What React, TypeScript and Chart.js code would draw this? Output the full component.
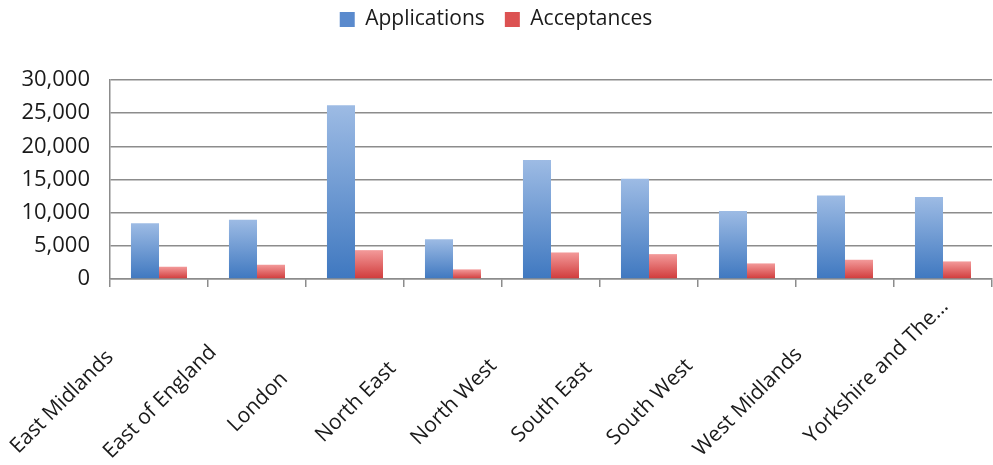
import React, { useEffect, useRef } from "react";
import { Chart, registerables } from "chart.js";

Chart.register(...registerables);

const categories = [
  "East Midlands",
  "East of England",
  "London",
  "North East",
  "North West",
  "South East",
  "South West",
  "West Midlands",
  "Yorkshire and The...",
];
const applications = [8400, 8950, 26200, 6000, 17950, 15100, 10250, 12600, 12350];
const acceptances = [1850, 2150, 4350, 1450, 4000, 3750, 2350, 2900, 2650];
const yTicks = [0, 5000, 10000, 15000, 20000, 25000, 30000];
const legendColors = ["#5a8acd", "#dc5252"];

const FONT = "Open Sans";

const gradientFill = (top: string, bottom: string, solid: string) => (c: any) => {
  const chart = c.chart;
  if (c.type !== "data" || !chart.chartArea || !c.parsed) return solid;
  const ys = chart.scales.y;
  const t = ys.getPixelForValue(c.parsed.y);
  const b = ys.getPixelForValue(0);
  if (!isFinite(t) || !isFinite(b) || t === b) return solid;
  const g = chart.ctx.createLinearGradient(0, t, 0, b);
  g.addColorStop(0, top);
  g.addColorStop(1, bottom);
  return g;
};

const legendSpacing = {
  id: "legendSpacing",
  beforeInit(chart: any) {
    const lg = chart.legend;
    if (!lg) return;
    const origFit = lg.fit;
    lg.fit = function () {
      origFit.call(this);
      this.height += 29;
    };
    const origDraw = lg.draw;
    lg.draw = function () {
      const ctx = this.ctx;
      ctx.save();
      ctx.translate(0, -11);
      origDraw.call(this);
      ctx.restore();
    };
  },
};

const rotatedLabels = {
  id: "rotatedLabels",
  afterDraw(chart: any) {
    const xs = chart.scales.x;
    const ctx = chart.ctx;
    const H = chart.height;
    ctx.save();
    ctx.font = `21px "${FONT}"`;
    ctx.fillStyle = "#1a1a1a";
    ctx.textAlign = "center";
    ctx.textBaseline = "middle";
    const ang = Math.PI / 4;
    categories.forEach((lab, i) => {
      const cx = xs.getPixelForTick(i);
      const w = ctx.measureText(lab).width;
      const half = (w * Math.cos(ang) + 22 * Math.sin(ang)) / 2;
      const baseY = 402;
      const overflow = Math.max(0, baseY + half - (H - 2));
      const cy = baseY - 2 * overflow;
      const px = cx - 97 + (baseY - cy);
      ctx.save();
      ctx.translate(px, cy);
      ctx.rotate(-ang);
      ctx.fillText(lab, 0, 0);
      ctx.restore();
    });
    ctx.restore();
  },
};

export default function App() {
  const ref = useRef<HTMLCanvasElement | null>(null);
  useEffect(() => {
    if (!ref.current) return;
    const chart = new Chart(ref.current, {
      type: "bar",
      data: {
        labels: categories,
        datasets: [
          {
            label: "Applications",
            data: applications,
            backgroundColor: gradientFill("#9dbbe4", "#3f78c0", "#4f82c8"),
            borderWidth: 0,
          },
          {
            label: "Acceptances",
            data: acceptances,
            backgroundColor: gradientFill("#f39a9a", "#d03a3a", "#d94a4a"),
            borderWidth: 0,
          },
        ],
      },
      options: {
        animation: false,
        responsive: true,
        maintainAspectRatio: false,
        layout: { padding: { left: 0, right: 1, top: 0, bottom: 178 } },
        datasets: { bar: { categoryPercentage: 0.572, barPercentage: 1 } },
        plugins: {
          legend: {
            position: "top",
            labels: {
              font: { family: FONT, size: 21 },
              color: "#1a1a1a",
              boxWidth: 15,
              boxHeight: 15,
              padding: 20,
              generateLabels: (ch: any) => {
                const items = Chart.defaults.plugins.legend.labels.generateLabels(ch);
                return items.map((it: any, i: number) => ({
                  ...it,
                  fillStyle: legendColors[i % legendColors.length],
                  strokeStyle: legendColors[i % legendColors.length],
                  lineWidth: 0,
                }));
              },
            },
          },
          tooltip: { enabled: false },
        },
        scales: {
          x: {
            offset: true,
            grid: {
              offset: true,
              drawOnChartArea: false,
              drawTicks: true,
              tickLength: 8,
              color: "#8c8c8c",
              lineWidth: 1.5,
            },
            border: { color: "#8c8c8c", width: 1.5 },
            ticks: { display: false },
          },
          y: {
            min: 0,
            max: 30000,
            afterFit: (s: any) => {
              s.width = 110;
            },
            afterBuildTicks: (s: any) => {
              s.ticks = yTicks.map((v) => ({ value: v }));
            },
            grid: { color: "#8c8c8c", lineWidth: 1.5, drawTicks: false },
            border: { color: "#8c8c8c", width: 1.5 },
            ticks: {
              padding: 20,
              color: "#1a1a1a",
              font: { family: FONT, size: 22 },
              callback: (v: any) => Number(v).toLocaleString("en-US"),
            },
          },
        },
      },
      plugins: [legendSpacing, rotatedLabels],
    });
    return () => chart.destroy();
  }, []);
  return (
    <div style={{ position: "fixed", left: 0, top: 0, width: 993, height: 465 }}>
      <canvas ref={ref} />
    </div>
  );
}
